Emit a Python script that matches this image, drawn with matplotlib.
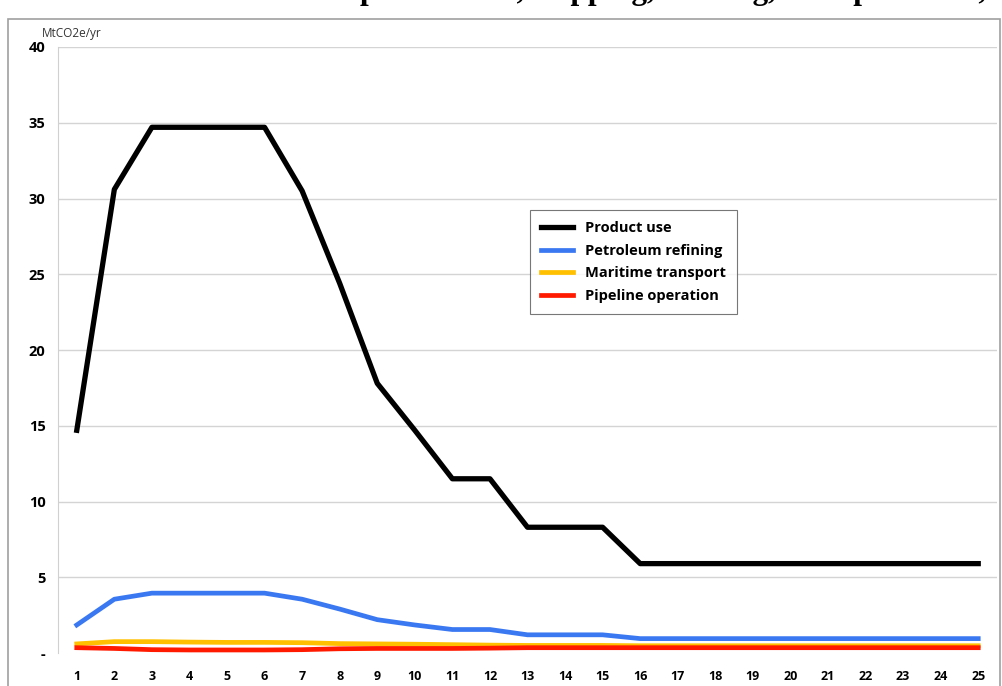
import numpy as np
import matplotlib
matplotlib.use("Agg")
import matplotlib.pyplot as plt
from matplotlib.patches import Rectangle

years = list(range(1, 26))
product_use = [14.7, 30.6, 34.7, 34.7, 34.7, 34.7, 30.5, 24.4, 17.8, 14.7, 11.5, 11.5,
               8.3, 8.3, 8.3, 5.9, 5.9, 5.9, 5.9, 5.9, 5.9, 5.9, 5.9, 5.9, 5.9]
refining = [1.85, 3.55, 3.95, 3.95, 3.95, 3.95, 3.55, 2.9, 2.2, 1.85, 1.55, 1.55,
            1.2, 1.2, 1.2, 0.95, 0.95, 0.95, 0.95, 0.95, 0.95, 0.95, 0.95, 0.95, 0.95]
maritime = [0.6, 0.75, 0.75, 0.72, 0.7, 0.7, 0.68, 0.62, 0.6, 0.58, 0.55, 0.52,
            0.5, 0.5, 0.5, 0.48, 0.48, 0.48, 0.48, 0.48, 0.48, 0.48, 0.48, 0.48, 0.48]
pipeline = [0.35, 0.3, 0.22, 0.2, 0.2, 0.2, 0.22, 0.28, 0.3, 0.3, 0.3, 0.32,
            0.35, 0.35, 0.35, 0.35, 0.35, 0.35, 0.35, 0.35, 0.35, 0.35, 0.35, 0.35, 0.35]
yticks = [0, 5, 10, 15, 20, 25, 30, 35, 40]
ytick_labels = ["-", "5", "10", "15", "20", "25", "30", "35", "40"]

W, H = 1003, 686
fig = plt.figure(figsize=(W / 100, H / 100), dpi=100)
ax = fig.add_axes([58 / W, 1 - 653 / H, 939 / W, 606 / H])

lw = 3.4
ax.plot(years, product_use, color="black", lw=lw + 0.4, solid_joinstyle="round", label="Product use", zorder=4)
ax.plot(years, refining, color="#3a78f2", lw=lw, solid_joinstyle="round", label="Petroleum refining", zorder=3)
ax.plot(years, maritime, color="#ffc000", lw=lw, solid_joinstyle="round", label="Maritime transport", zorder=2)
ax.plot(years, pipeline, color="#ff1a00", lw=lw, solid_joinstyle="round", label="Pipeline operation", zorder=2)

ax.set_xlim(0.5, 25.5)
ax.set_ylim(0, 40)
ax.set_xticks(years)
ax.set_yticks(yticks)
ax.set_yticklabels(ytick_labels)
for y in yticks[1:]:
    ax.axhline(y, color="#d4d4d4", lw=1, zorder=0)
for s in ["top", "right", "bottom"]:
    ax.spines[s].set_visible(False)
ax.spines["left"].set_color("#d0d0d0")
ax.tick_params(length=0)
ax.tick_params(axis="x", pad=12)
ax.tick_params(axis="y", pad=9)
for lab in ax.get_xticklabels() + ax.get_yticklabels():
    lab.set_fontfamily("Open Sans")
    lab.set_fontweight("bold")
    lab.set_fontsize(9)
for lab in ax.get_yticklabels():
    lab.set_fontsize(10.5)

ax.text(-0.017, 1.012, "MtCO2e/yr", transform=ax.transAxes, fontsize=8.5, family="Open Sans",
        color="#333333", ha="left", va="bottom")

leg = ax.legend(loc="upper left", bbox_to_anchor=(0.503, 0.731), frameon=True, fancybox=False,
                prop={"family": "Open Sans", "weight": "bold", "size": 10.5},
                handlelength=2.2, handletextpad=0.8, borderpad=0.75, labelspacing=0.6,
                borderaxespad=0)
leg.get_frame().set_edgecolor("#555555")
leg.get_frame().set_linewidth(0.8)

# outer chart border
fig.patches.append(Rectangle((8 / W, -0.01), 992 / W, 1 - 19 / H + 0.01, transform=fig.transFigure,
                             fill=False, edgecolor="#a0a0a0", lw=1.2))

# title, cut off at the top edge
fig.text(360 / W, 1 + 1.5 / H, "product use, shipping, refining, transportation,", family="Liberation Serif",
         fontweight="bold", fontsize=22.5, ha="left", va="baseline")

fig.savefig("out.png", dpi=100)
